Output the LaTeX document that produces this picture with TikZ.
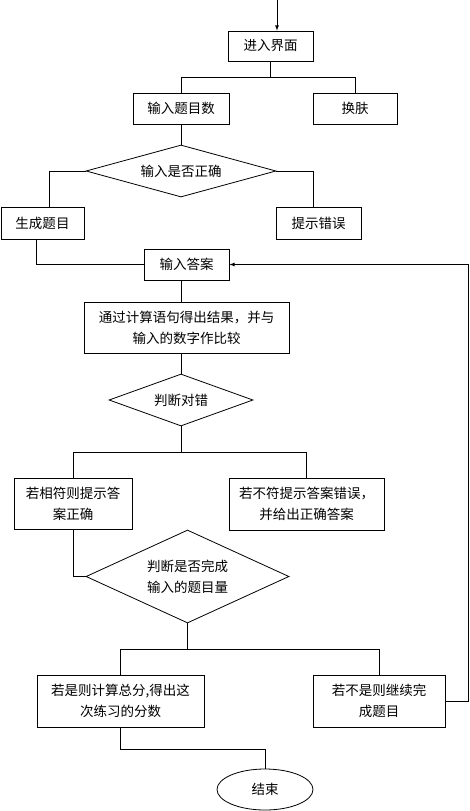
\documentclass[tikz,border=0pt]{standalone}
\usepackage{fontspec}
\setmainfont{Noto Sans CJK SC}
\usetikzlibrary{arrows,shapes.geometric}
\tikzset{every node/.append style={font=\fontsize{13.5}{21}\selectfont}}

\begin{document}
\begin{tikzpicture}[x=1pt,y=-1pt,line width=0.8pt,>=latex]
\useasboundingbox (0,0) rectangle (469,811);
\begin{scope}[every node/.style={draw,rectangle,inner sep=0pt,align=center,
font=\fontsize{13.5}{21}\selectfont}]
\node[minimum width=85pt,minimum height=30pt] (enter) at (270.5,46) {进入界面};
\node[minimum width=96pt,minimum height=31pt] (num) at (181,108.5) {输入题目数};
\node[minimum width=84pt,minimum height=31pt] (skin) at (355,108.5) {换肤};
\node[minimum width=83pt,minimum height=32pt] (gen) at (42.5,223) {生成题目};
\node[minimum width=85pt,minimum height=32pt] (err) at (318.5,223) {提示错误};
\node[minimum width=85pt,minimum height=31pt] (ans) at (186.5,264.5) {输入答案};
\node[minimum width=205pt,minimum height=51pt] (calc) at (186.5,327.5)
  {通过计算语句得出结果，并与\\输入的数字作比较};
\node[minimum width=118pt,minimum height=51pt] (ok) at (73,503.5)
  {若相符则提示答\\案正确};
\node[minimum width=155pt,minimum height=52pt] (wrong) at (306.5,504)
  {若不符提示答案错误，\\并给出正确答案};
\node[minimum width=167pt,minimum height=52pt] (total) at (120.5,701)
  {若是则计算总分,得出这\\次练习的分数};
\node[minimum width=132pt,minimum height=52pt] (cont) at (379,701)
  {若不是则继续完\\成题目};
\end{scope}

\begin{scope}[every node/.style={draw,diamond,aspect=3,inner sep=0pt,
font=\fontsize{13.5}{21}\selectfont}]
\node[minimum width=190pt,minimum height=52pt] (chk) at (181,171) {输入是否正确};
\node[minimum width=144pt,minimum height=52pt] (judge) at (181,400) {判断对错};
\node[minimum width=203pt,minimum height=93pt,align=left] (done) at (187.5,576.5)
  {判断是否完成\\输入的题目量};
\end{scope}

\node[draw,ellipse,inner sep=0pt,minimum width=96pt,minimum height=41pt] (end) at (265,789.5) {结束};

\coordinate (in) at (277,0);
\draw[->] (in) -- (in |- enter.north);
\draw (enter.south) -- ++(0,16) -| (num.north);
\draw (enter.south) ++(0,16) -| (skin.north);
\draw (num.south) -- (chk.north);
\draw (chk.west) -| ([xshift=6.5pt]gen.north);
\draw (chk.east) -| ([xshift=-5.5pt]err.north);
\draw ([xshift=-6.5pt]gen.south) |- (ans.west);
\draw (judge |- ans.south) -- (judge |- calc.north);
\draw (judge |- calc.south) -- (judge.north);
\draw (judge.south) -- ++(0,26) -| (ok.north);
\draw (judge.south) ++(0,26) -| (wrong.north);
\draw (ok.south) |- (done.west);
\draw (done.south) -- ++(0,26) -| (total.north);
\draw (done.south) ++(0,26) -| (cont.north);
\draw (total.south) -- ++(0,22) -| (end.north);
\draw[->] (cont.east) -- ++(23,0) |- (ans.east);

\end{tikzpicture}
\end{document}
